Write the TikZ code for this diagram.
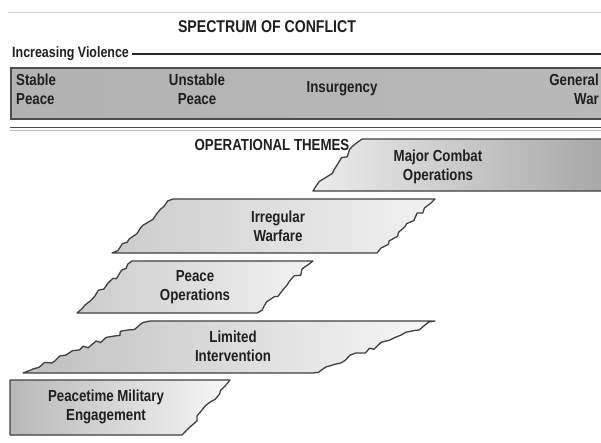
\documentclass[tikz,border=0pt]{standalone}
\usepackage{fontspec}
\setmainfont{Liberation Sans}[FakeStretch=0.83]
\usetikzlibrary{decorations.pathmorphing}

\newcommand{\themefont}{\fontsize{16}{19}\selectfont\bfseries}

\begin{document}
\pgfmathsetseed{12}
\begin{tikzpicture}[x=1pt,y=-1pt,every node/.append style={align=center,inner sep=0pt,text=black!88},
  lbl/.style={font=\themefont},
  theme/.style={draw=black!75, line width=1.3pt, line join=round},
  torn/.style={decoration={random steps, segment length=6pt, amplitude=2.2pt}}]
    \clip (0,0) rectangle (601,442);
    \fill[white] (0,0) rectangle (601,442);
    % spectrum of conflict
    \draw[gray!35, line width=0.8pt] (8,12) -- (601,12);
    \node[font=\fontsize{17}{19}\selectfont\bfseries] (title) at (267,27) {SPECTRUM OF CONFLICT};
    \node[font=\fontsize{15}{17}\selectfont\bfseries, anchor=west] (viol) at (12,54) {Increasing Violence};
    \draw[black!85, line width=1.6pt] (viol.east) ++(3,0) coordinate (vstart) -- (vstart -| 601,0);
    \draw[draw=black!70, line width=1.6pt, left color=gray!60, middle color=gray!8, right color=gray!55] (11,68) rectangle (612,119);
    \node[lbl, align=left, anchor=west] (stable) at (16,89) {Stable\\Peace};
    \node[lbl] (unstable) at (197,89) {Unstable\\Peace};
    \node[lbl] (insurg) at (342,89) {Insurgency};
    \node[lbl, align=right, anchor=east] (war) at (599,89) {General\\War};
    \draw[black!70, line width=1.5pt] (10,127.5) -- (601,127.5);
    \draw[gray!50, line width=1pt] (10,130.5) -- (601,130.5);
    % operational themes
    \node[font=\fontsize{16}{19}\selectfont\bfseries] (optitle) at (272,145) {OPERATIONAL THEMES};
    \draw[theme, left color=gray!15, right color=gray!70] (362,139) -- (612,139) -- (612,191) -- (313,191) decorate[torn]{-- (362,139)} -- cycle;
    \draw[theme, left color=gray!40, right color=gray!10] (173,199) -- (435,199) decorate[torn]{-- (377,253)} -- (112,253) decorate[torn]{-- (173,199)} -- cycle;
    \draw[theme, left color=gray!40, right color=gray!10] (132,261) -- (313,261) decorate[torn]{-- (257,313)} -- (77,313) decorate[torn]{-- (132,261)} -- cycle;
    \draw[theme, left color=gray!50, right color=gray!6] (150,321) -- (435,321) decorate[torn]{-- (313,373)} -- (23,373) decorate[torn]{-- (150,321)} -- cycle;
    \draw[theme, left color=gray!55, right color=gray!6] (10,380) -- (230,380) decorate[torn]{-- (182,435)} -- (10,435) -- cycle;
    \node[lbl] (major) at (438,167) {Major Combat\\Operations};
    \node[lbl] (irreg) at (278,226) {Irregular\\Warfare};
    \node[lbl] (peaceop) at (195,287) {Peace\\Operations};
    \node[lbl] (limited) at (233,346) {Limited\\Intervention};
    \node[lbl] (peacetime) at (106,407) {Peacetime Military\\Engagement};
\end{tikzpicture}
\end{document}
